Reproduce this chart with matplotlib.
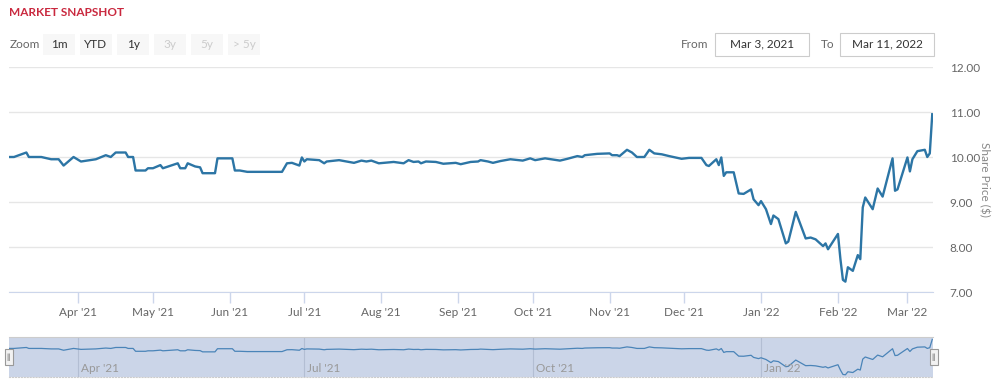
import datetime as dt
import matplotlib
matplotlib.use("Agg")
import matplotlib.pyplot as plt
import matplotlib.dates as mdates
from matplotlib.patches import Rectangle

plt.rcParams["font.family"] = ["Lato", "DejaVu Sans"]

# share price (day offset from 2021-03-04, price in $)
start = dt.date(2021, 3, 4)
days = [0, 2, 6, 7, 8, 13, 17, 20, 22, 26, 29, 35, 39, 41, 43, 47, 48, 50, 51, 55,
        56, 58, 61, 62, 68, 69, 71, 72, 75, 77, 78, 83, 84, 90, 91, 93, 96, 110, 112, 114,
        117, 118, 119, 120, 125, 127, 128, 133, 139, 142, 144, 146, 149, 155, 159, 161, 163, 165, 166, 168,
        172, 175, 180, 182, 186, 189, 190, 193, 195, 198, 202, 207, 210, 212, 216, 222, 225, 229, 231, 232,
        237, 242, 243, 245, 246, 249, 251, 253, 256, 258, 260, 263, 266, 271, 274, 279, 281, 282, 285, 286,
        287, 288, 289, 292, 294, 296, 299, 300, 302, 303, 305, 307, 308, 310, 313, 314, 317, 321, 323, 325,
        327, 328, 329, 330, 334, 335, 336, 337, 338, 340, 342, 343, 344, 345, 348, 350, 352, 356, 357, 358,
        362, 363, 364, 366, 369, 370, 371, 372]
price = [10.00, 10.00, 10.08, 10.10, 10.00, 10.00, 9.95, 9.95, 9.81, 10.00, 9.90, 9.95, 10.04, 10.00, 10.10, 10.10, 10.00, 10.00, 9.70, 9.70,
         9.75, 9.75, 9.82, 9.75, 9.86, 9.75, 9.75, 9.86, 9.79, 9.77, 9.64, 9.64, 9.97, 9.97, 9.70, 9.70, 9.67, 9.67, 9.86, 9.87,
         9.81, 9.99, 9.90, 9.95, 9.93, 9.86, 9.90, 9.93, 9.87, 9.92, 9.90, 9.92, 9.86, 9.89, 9.86, 9.93, 9.89, 9.90, 9.86, 9.90,
         9.89, 9.85, 9.87, 9.84, 9.89, 9.90, 9.93, 9.90, 9.87, 9.91, 9.95, 9.92, 9.97, 9.93, 9.97, 9.92, 9.96, 10.02, 10.00, 10.04,
         10.07, 10.08, 10.04, 10.04, 10.02, 10.16, 10.10, 10.00, 10.00, 10.16, 10.08, 10.06, 10.02, 9.96, 9.98, 9.98, 9.82, 9.80, 9.95, 9.82,
         9.99, 9.58, 9.66, 9.66, 9.19, 9.18, 9.28, 9.06, 8.93, 9.02, 8.84, 8.51, 8.70, 8.62, 8.08, 8.12, 8.78, 8.19, 8.21, 8.17,
         8.07, 8.02, 8.08, 7.95, 8.29, 7.73, 7.27, 7.23, 7.55, 7.47, 7.82, 7.73, 8.88, 9.10, 8.84, 9.30, 9.12, 9.97, 9.25, 9.28,
         9.99, 9.68, 9.95, 10.13, 10.16, 10.00, 10.08, 10.95]
yticks = [7, 8, 9, 10, 11, 12]
zoom_buttons = ["1m", "YTD", "1y", "3y", "5y", "> 5y"]
zoom_enabled = [True, True, True, False, False, False]
range_from, range_to = "Mar 3, 2021", "Mar 11, 2022"

dates = [start + dt.timedelta(days=d) for d in days]
W, H = 1001, 392
LINE = "#2c75a5"
GRAY = "#666666"

fig = plt.figure(figsize=(W / 100, H / 100), dpi=100)

def fx(x): return x / W
def fy(y): return 1 - y / H

x0 = mdates.date2num(start)
xlim = (x0, x0 + 372.3)

# main chart
ax = fig.add_axes([fx(9), fy(292), fx(924), 225 / H])
ax.plot(dates, price, color=LINE, lw=1.7, solid_joinstyle="round")
ax.set_xlim(xlim)
ax.set_ylim(7, 12)
ax.set_yticks(yticks)
ax.yaxis.tick_right()
ax.set_yticklabels([f"{v:.2f}" for v in yticks])
ax.tick_params(axis="y", length=0, pad=12, labelsize=8.5, labelcolor=GRAY)
ax.grid(axis="y", color="#e6e6e6", lw=1)
ax.set_axisbelow(True)
ax.xaxis.set_major_locator(mdates.MonthLocator())
ax.xaxis.set_major_formatter(mdates.DateFormatter("%b '%y"))
ax.tick_params(axis="x", length=8, width=1, color="#ccd6eb", labelsize=8.5, labelcolor=GRAY, pad=3)
for s in ["top", "left", "right"]:
    ax.spines[s].set_visible(False)
ax.spines["bottom"].set_color("#ccd6eb")
ax.yaxis.set_label_position("right")
ax.set_ylabel("Share Price ($)", rotation=-90, color="#888888", fontsize=8.5, labelpad=7)

# navigator
nav = fig.add_axes([fx(9), fy(377), fx(924), 40 / H])
nav.set_facecolor("#cbd5e8")
nav.plot(dates, price, color="#4a84b8", lw=0.9)
nav.set_xlim(xlim)
nav.set_ylim(7.0, 11.2)
nav.set_yticks([])
nav.xaxis.set_major_locator(mdates.MonthLocator(bymonth=[1, 4, 7, 10]))
nav.grid(axis="x", color="#b3bed3", lw=0.8)
nav.tick_params(axis="x", length=0, labelbottom=False)
for t in nav.get_xticks():
    nav.text(t + 1.2, 7.35, mdates.num2date(t).strftime("%b '%y"), color="#999999", fontsize=8.5, va="bottom")
for s in ["left", "right"]:
    nav.spines[s].set_visible(False)
nav.spines["top"].set_color("#cccccc")
nav.spines["bottom"].set_color("#cccccc")
nav.spines["bottom"].set_linestyle(":")
for hx in [8.5, 933.5]:
    fig.patches.append(Rectangle((fx(hx - 4), fy(365)), 8 / W, 16 / H, transform=fig.transFigure,
                                 facecolor="#f2f2f2", edgecolor="#999999", lw=0.8, zorder=5))
    fig.text(fx(hx), fy(357), "||", color="#555555", fontsize=6, ha="center", va="center", zorder=6)

# header
fig.text(fx(9), fy(12), "MARKET SNAPSHOT", color="#c9283e", fontsize=8.5, fontweight="bold", va="center")
fig.text(fx(10), fy(44), "Zoom", color=GRAY, fontsize=8.5, va="center")
bx = 43
for lab, on in zip(zoom_buttons, zoom_enabled):
    fig.patches.append(Rectangle((fx(bx), fy(55)), 32 / W, 21 / H, transform=fig.transFigure,
                                 facecolor="#f7f7f7", edgecolor="none"))
    fig.text(fx(bx + 16), fy(44), lab, color="#333333" if on else "#cccccc", fontsize=8.5,
             ha="center", va="center")
    bx += 37

fig.text(fx(681), fy(44), "From", color=GRAY, fontsize=8.5, va="center")
fig.text(fx(821), fy(44), "To", color=GRAY, fontsize=8.5, va="center")
for bx0, lab in [(715, range_from), (840, range_to)]:
    fig.patches.append(Rectangle((fx(bx0), fy(56)), 94 / W, 23 / H, transform=fig.transFigure,
                                 facecolor="white", edgecolor="#cccccc", lw=0.8))
    fig.text(fx(bx0 + 47), fy(44), lab, color="#333333", fontsize=8.5, ha="center", va="center")

fig.savefig("out.png", dpi=100)
